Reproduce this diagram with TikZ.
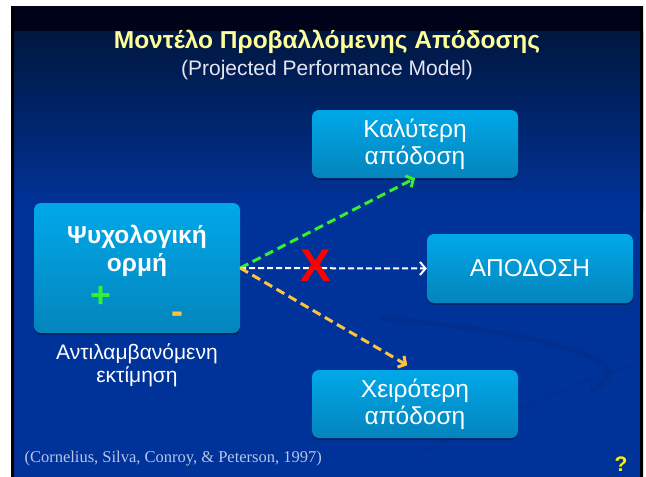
\documentclass[tikz,border=0pt]{standalone}
\usepackage{fontspec}
\setmainfont{Liberation Sans}
\newfontfamily\timesfont{Liberation Serif}
\usetikzlibrary{arrows.meta,calc,shadows}
\definecolor{slideblue}{HTML}{00339A}
\definecolor{slidetop}{HTML}{00173F}
\definecolor{slideband}{HTML}{00021A}
\definecolor{swoosh}{HTML}{002C88}
\definecolor{boxtop}{HTML}{00A8E8}
\definecolor{boxbot}{HTML}{0484BC}
\definecolor{titleyellow}{HTML}{FFFF99}
\definecolor{subgray}{HTML}{E6E6F0}
\definecolor{citegray}{HTML}{B8C4E8}
\definecolor{minusorange}{HTML}{FFC23C}
\definecolor{plusgreen}{HTML}{33F033}
\begin{document}
\begin{tikzpicture}[x=1pt,y=-1pt,line join=round,>={Straight Barb[length=5.5pt,width=13pt]},
	stage/.style={shade,top color=boxtop,bottom color=boxbot,rounded corners=7pt,text=white,align=center,
		minimum width=206pt,inner sep=0pt,font=\fontsize{24.5}{27}\selectfont,
		drop shadow={shadow xshift=0pt,shadow yshift=-2pt,opacity=.3,fill=black}},
	link/.style={->,dash pattern=on 9pt off 5pt,line width=3pt}]
	\useasboundingbox (0,0) rectangle (646,477);
	% slide background
	\fill[white] (0,0) rectangle (646,477);
	\fill[slideblue] (11,6) rectangle (643,477);
	\shade[top color=slidetop,bottom color=slideblue] (11,31) rectangle (643,210);
	\fill[slideband] (11,6) rectangle (643,31);
	\fill[black] (11,6) rectangle (14,477) (640,6) rectangle (643,477);
	\draw[swoosh,line width=6pt,opacity=.5] (380,318) .. controls (520,330) and (660,360) .. (590,390);
	\draw[swoosh,line width=3pt,opacity=.4] (420,452) .. controls (520,410) and (580,380) .. (640,362);
	% titles
	\node[text=titleyellow,font=\bfseries\fontsize{24.5}{28}\selectfont] (title) at (327,42) {Μοντέλο Προβαλλόμενης Απόδοσης};
	\node[text=subgray,font=\fontsize{21}{24}\selectfont] (subtitle) at (327,70) {(Projected Performance Model)};
	% boxes
	\node[stage,minimum height=130pt] (drive) at (137,268) {};
	\node[text=white,align=center,font=\bfseries\fontsize{24.5}{28}\selectfont] (drivetxt) at (137,251) {Ψυχολογική\\ορμή};
	\node[text=plusgreen,font=\bfseries\fontsize{36}{36}\selectfont] (plus) at (101,297) {+};
	\node[text=minusorange,font=\bfseries\fontsize{36}{36}\selectfont] (minus) at (177,318) {-};
	\node[text=white,align=center,font=\fontsize{21}{23}\selectfont] (perceived) at (137,365) {Αντιλαμβανόμενη\\εκτίμηση};
	\node[stage,minimum height=68pt] (better) at (415,144) {Καλύτερη\\απόδοση};
	\node[stage,minimum height=69pt] (perf) at (530,268.5) {ΑΠΟΔΟΣΗ};
	\node[stage,minimum height=68pt] (worse) at (415,404) {Χειρότερη\\απόδοση};
	% arrows
	\draw[link,plusgreen] (drive.east) -- (better.south);
	\draw[->,white,dash pattern=on 6pt off 3pt,line width=2pt] (drive.east) -- (perf.west);
	\draw[link,minusorange,shorten >=9pt] (drive.east) -- (worse.north);
	\node[text=red,font=\bfseries\fontsize{46}{46}\selectfont] (cross) at (316,266) {X};
	% footer
	\node[anchor=west,text=citegray,font=\timesfont\fontsize{16.5}{18}\selectfont] (cite) at (21,459) {(Cornelius, Silva, Conroy, \& Peterson, 1997)};
	\node[text=yellow,font=\bfseries\fontsize{21}{24}\selectfont] (ask) at (621,464) {?};
\end{tikzpicture}
\end{document}
